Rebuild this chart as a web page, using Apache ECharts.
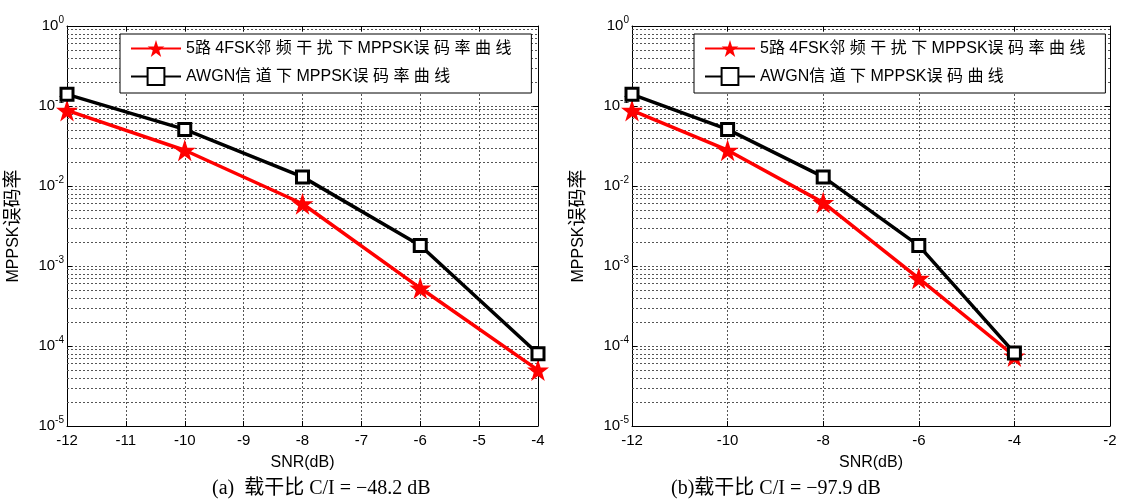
<!DOCTYPE html>
<html>
<head>
<meta charset="utf-8">
<script src="https://cdn.jsdelivr.net/npm/echarts@6/dist/echarts.min.js"></script>
<style>html,body{margin:0;padding:0;background:#fff;}#c{width:1121px;height:503px;}</style>
</head>
<body>
<div id="c"></div>
<script>
// ---- data ----
const snrA = [-12, -10, -8, -6, -4];
const snrB = [-12, -10, -8, -6, -4];
const redA = [0.088, 0.028, 0.006, 0.00053, 0.00005];
const blackA = [0.14, 0.051, 0.013, 0.0018, 0.00008];
const redB = [0.088, 0.028, 0.0062, 0.0007, 0.000075];
const blackB = [0.14, 0.051, 0.013, 0.0018, 0.000082];
const nameRed = '5路 4FSK邻 频 干 扰 下 MPPSK误 码 率 曲 线';
const nameBlackA = 'AWGN信 道 下 MPPSK误 码 率 曲 线';
const nameBlackB = 'AWGN信 道 下 MPPSK误 码 曲 线';
const captionA = '(a)  载干比 C/I = −48.2 dB';
const captionB = '(b)载干比 C/I = −97.9 dB';
const xRangeA = [-12, -4];
const xRangeB = [-12, -2];
const yDecades = [-5, -4, -3, -2, -1];
const minorMult = [2, 3, 4, 5, 6, 7, 8, 9];

const minorVals = [];
yDecades.forEach(d => minorMult.forEach(m => minorVals.push(m * Math.pow(10, d))));

const starPath = 'path://M50,0 L61.8,35.4 L99,35.4 L69,57.3 L80.4,92.7 L50,70.8 L19.6,92.7 L31,57.3 L1,35.4 L38.2,35.4 Z';
const font = '"Liberation Sans", Arial, "Noto Sans CJK SC", sans-serif';
const gridLine = {show: true, lineStyle: {color: '#555', type: [2, 2], width: 1}};

function pairs(xs, ys) { return xs.map((x, i) => [x, ys[i]]); }

function yLabelFmt(v) {
  const e = Math.round(Math.log10(v));
  return '{b|10}{s|' + e + '}';
}
const yRich = {
  b: {fontSize: 15, color: '#000', fontFamily: font},
  s: {fontSize: 10, color: '#000', fontFamily: font, padding: [0, 0, 11, 0]}
};

function xAxisMain(gi, range, interval) {
  return {
    type: 'value', gridIndex: gi, min: range[0], max: range[1], interval: interval,
    position: 'bottom',
    name: 'SNR(dB)', nameLocation: 'middle', nameGap: 29,
    nameTextStyle: {fontSize: 16, color: '#000', fontFamily: font},
    axisLine: {show: true, onZero: false, lineStyle: {color: '#000', width: 1}},
    axisTick: {show: true, inside: true, length: 5, lineStyle: {color: '#000'}},
    axisLabel: {fontSize: 15, color: '#000', fontFamily: font, margin: 7},
    splitLine: gridLine
  };
}
function xAxisTop(gi, range, interval) {
  return {
    type: 'value', gridIndex: gi, min: range[0], max: range[1], interval: interval,
    position: 'top',
    axisLine: {show: true, onZero: false, lineStyle: {color: '#000', width: 1}},
    axisTick: {show: true, inside: true, length: 5, lineStyle: {color: '#000'}},
    axisLabel: {show: false}, splitLine: {show: false}
  };
}
function yAxisMain(gi) {
  return {
    type: 'log', logBase: 10, gridIndex: gi, min: 1e-5, max: 1, position: 'left',
    name: '{a|MPPSK}{c|误码率}', nameLocation: 'middle', nameGap: 44, nameRotate: 90,
    nameTextStyle: {color: '#000', fontFamily: font,
      rich: {a: {fontSize: 16, fontFamily: font, color: '#000'}, c: {fontSize: 19, fontFamily: font, color: '#000'}}},
    axisLine: {show: true, onZero: false, lineStyle: {color: '#000', width: 1}},
    axisTick: {show: true, inside: true, length: 5, lineStyle: {color: '#000'}},
    axisLabel: {formatter: yLabelFmt, rich: yRich, margin: 3},
    splitLine: gridLine
  };
}
function yAxisRight(gi) {
  return {
    type: 'log', logBase: 10, gridIndex: gi, min: 1e-5, max: 1, position: 'right',
    axisLine: {show: true, onZero: false, lineStyle: {color: '#000', width: 1}},
    axisTick: {show: true, inside: true, length: 5, lineStyle: {color: '#000'}},
    axisLabel: {show: false}, splitLine: {show: false}
  };
}
function minorSeries(xi, yi, range) {
  return {
    type: 'lines', coordinateSystem: 'cartesian2d', xAxisIndex: xi, yAxisIndex: yi,
    z: 1, silent: true, animation: false,
    lineStyle: {color: '#555', type: [2, 2], width: 1, opacity: 1},
    data: minorVals.map(v => ({coords: [[range[0], v], [range[1], v]]}))
  };
}
function redSeries(xi, yi, xs, ys) {
  return {
    name: nameRed, type: 'line', xAxisIndex: xi, yAxisIndex: yi, data: pairs(xs, ys),
    symbol: starPath, symbolSize: 22, z: 3,
    lineStyle: {color: '#ff0000', width: 3.5},
    itemStyle: {color: '#ff0000'}, animation: false
  };
}
function blackSeries(name, xi, yi, xs, ys) {
  return {
    name: name, type: 'line', xAxisIndex: xi, yAxisIndex: yi, data: pairs(xs, ys),
    symbol: 'rect', symbolSize: 12, z: 4,
    lineStyle: {color: '#000', width: 3.5},
    itemStyle: {color: '#fff', borderColor: '#000', borderWidth: 3}, animation: false
  };
}
function legend(left, names) {
  return {
    data: names, orient: 'vertical', left: left, top: 34,
    backgroundColor: '#fff', borderColor: '#000', borderWidth: 1,
    padding: [4, 20, 6, 10], itemGap: 7, itemWidth: 50, itemHeight: 21,
    textStyle: {fontSize: 16, color: '#000', fontFamily: font, lineHeight: 21},
    selectedMode: false
  };
}

const chart = echarts.init(document.getElementById('c'));
chart.setOption({
  backgroundColor: '#fff',
  animation: false,
  grid: [
    {left: 67, right: 583, top: 26, bottom: 77},
    {left: 632, right: 11, top: 26, bottom: 77}
  ],
  xAxis: [xAxisMain(0, xRangeA, 1), xAxisTop(0, xRangeA, 1), xAxisMain(1, xRangeB, 2), xAxisTop(1, xRangeB, 2)],
  yAxis: [yAxisMain(0), yAxisRight(0), yAxisMain(1), yAxisRight(1)],
  legend: [legend(120, [nameRed, nameBlackA]), legend(694, [nameRed, nameBlackB])],
  series: [
    minorSeries(0, 0, xRangeA),
    redSeries(0, 0, snrA, redA),
    blackSeries(nameBlackA, 0, 0, snrA, blackA),
    minorSeries(2, 2, xRangeB),
    redSeries(2, 2, snrB, redB),
    blackSeries(nameBlackB, 2, 2, snrB, blackB)
  ],
  graphic: [
    {type: 'text', left: 212, top: 479, style: {text: captionA, fontSize: 20, fill: '#000', fontFamily: '"Liberation Serif", "Times New Roman", "Noto Sans CJK SC", serif'}},
    {type: 'text', left: 671, top: 479, style: {text: captionB, fontSize: 20, fill: '#000', fontFamily: '"Liberation Serif", "Times New Roman", "Noto Sans CJK SC", serif'}}
  ]
});
</script>
</body>
</html>
